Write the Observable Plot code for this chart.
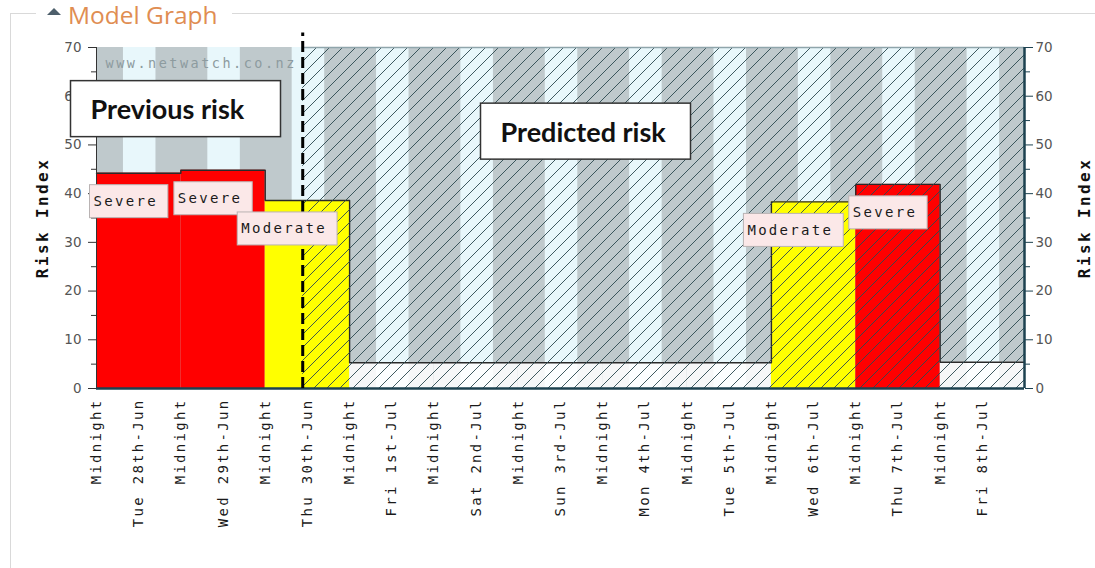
<!DOCTYPE html>
<html>
<head>
<meta charset="utf-8">
<script src="https://cdn.jsdelivr.net/npm/d3@7"></script>
<script src="https://cdn.jsdelivr.net/npm/@observablehq/plot@0.6"></script>
<style>
  html, body { margin: 0; padding: 0; background: #fff; }
  body { width: 1095px; height: 568px; overflow: hidden; position: relative; }
  #frame { position: absolute; left: 10px; top: 13px; width: 1200px; height: 700px;
           border-left: 1.5px solid #d9d9d9; border-top: 1.5px solid #d9d9d9; }
  #legend { position: absolute; left: 36px; top: 0px; height: 30px; padding: 0 14px 0 9px; background: #fff;
            font-family: "Open Sans", "Noto Sans", sans-serif; font-size: 24.5px; line-height: 30px; color: #e08d52;
            z-index: 3; white-space: nowrap; }
  #legend .tri { display: inline-block; width: 0; height: 0; border-left: 7px solid transparent;
                 border-right: 7px solid transparent; border-bottom: 7px solid #4d5f6b;
                 vertical-align: middle; margin: -12px 7px 0 2px; }
  #chart { position: absolute; left: 0; top: 0; z-index: 2; }
</style>
</head>
<body>
<div id="frame"></div>
<div id="legend"><span class="tri"></span>Model Graph</div>
<div id="chart"></div>
<script>
// ---------- data ----------
const days = ["2022-06-28","2022-06-29","2022-06-30","2022-07-01","2022-07-02","2022-07-03",
              "2022-07-04","2022-07-05","2022-07-06","2022-07-07","2022-07-08"];
const riskIndex = [44.2, 44.8, 38.6, 5.3, 5.3, 5.3, 5.3, 5.3, 38.3, 41.9, 5.4];
const riskLevel = ["Severe","Severe","Moderate","Low","Low","Low","Low","Low","Moderate","Severe","Low"];
const levelColors = {Severe: "#ff0000", Moderate: "#ffff00", Low: "#ffffff"};
const sunrise = "07:40";
const sunset = "16:55";
const nowTime = "2022-06-30T10:40Z";
const rangeEnd = "2022-07-09T00:00Z";
const xTickLabels = ["Midnight","Tue 28th-Jun","Midnight","Wed 29th-Jun","Midnight","Thu 30th-Jun",
  "Midnight","Fri 1st-Jul","Midnight","Sat 2nd-Jul","Midnight","Sun 3rd-Jul","Midnight","Mon 4th-Jul",
  "Midnight","Tue 5th-Jul","Midnight","Wed 6th-Jul","Midnight","Thu 7th-Jul","Midnight","Fri 8th-Jul"];
const yTicks = [0, 10, 20, 30, 40, 50, 60, 70];
const yMinorTicks = [5, 15, 25, 35, 45, 55, 65];
const periodLabels = ["Previous risk", "Predicted risk"];
const watermark = "www.netwatch.co.nz";
const axisTitle = "Risk Index";

// ---------- derived tables ----------
const dayMs = 864e5;
const dayStart = d => new Date(d + "T00:00Z");
const start = dayStart(days[0]);
const end = new Date(rangeEnd);
const now = new Date(nowTime);
const rows = days.map((d, i) => ({
  start: dayStart(d), end: new Date(dayStart(d).getTime() + dayMs),
  value: riskIndex[i], level: riskLevel[i]
}));
const daylight = days.map(d => ({x1: new Date(`${d}T${sunrise}Z`), x2: new Date(`${d}T${sunset}Z`)}));
const xTicks = xTickLabels.map((_, i) => new Date(start.getTime() + i * dayMs / 2));
const labelByTime = new Map(xTicks.map((t, i) => [+t, xTickLabels[i]]));
const outline = rows.map(r => ({x: r.start, y: r.value}))
  .concat([{x: end, y: riskIndex[riskIndex.length - 1]}]);
const tags = rows.filter(r => r.level !== "Low");

const mono = "DejaVu Sans Mono";
const teal = "#1d4250";
const boldSans = "Lato, 'Open Sans', sans-serif";

const svg = Plot.plot({
  width: 1095,
  height: 568,
  marginLeft: 96,
  marginRight: 71,
  marginTop: 47,
  marginBottom: 180,
  style: {background: "transparent", overflow: "visible"},
  x: {type: "utc", domain: [start, end]},
  y: {domain: [0, 70]},
  color: {type: "identity"},
  marks: [
    () => {
      const defs = d3.create("svg:defs");
      defs.html(`<pattern id="hatch" patternUnits="userSpaceOnUse" width="13" height="13">
        <path d="M-2,2 L2,-2 M0,13 L13,0 M11,15 L15,11" stroke="#2c4950" stroke-width="1" stroke-opacity="0.9"/>
      </pattern>`);
      return defs.node();
    },
    // night background and daylight stripes
    Plot.rect([{x1: start, x2: end}], {x1: "x1", x2: "x2", y1: 0, y2: 70, fill: "#bfc9cc"}),
    Plot.rect(daylight, {x1: "x1", x2: "x2", y1: 0, y2: 70, fill: "#e8f7fb"}),
    // risk bars
    Plot.rect(rows.filter(r => r.level === "Low"), {x1: "start", x2: "end", y1: 0, y2: "value",
      fill: "#ffffff", fillOpacity: 0.85}),
    Plot.rect(rows.filter(r => r.level !== "Low"), {x1: "start", x2: "end", y1: 0, y2: "value",
      fill: d => levelColors[d.level]}),
    Plot.line(outline, {x: "x", y: "y", curve: "step-after", stroke: "#2a2a2a", strokeWidth: 1.4}),
    // predicted region hatching
    Plot.rect([{x1: now, x2: end}], {x1: "x1", x2: "x2", y1: 0, y2: 70, fill: "url(#hatch)"}),
    Plot.ruleY([70], {x1: now, x2: end, stroke: "#8fa5ab", strokeWidth: 1.5}),
    // axes
    Plot.axisX({ticks: xTicks, tickFormat: d => labelByTime.get(+d), tickRotate: -90, tickSize: 0,
      tickPadding: 10, fontFamily: mono, fontSize: 14, color: "#1a1a1a", label: null}),
    Plot.axisY({anchor: "left", ticks: yTicks, tickSize: 8, tickPadding: 7, fontFamily: "DejaVu Sans",
      fontSize: 13.5, color: "#555", stroke: "#333", label: null}),
    Plot.axisY({anchor: "left", ticks: yMinorTicks, tickSize: 5, tickFormat: () => "", stroke: "#333", label: null}),
    Plot.axisY({anchor: "right", ticks: yTicks, tickSize: 8, tickPadding: 3, fontFamily: "DejaVu Sans",
      fontSize: 13.5, color: "#555", stroke: teal, label: null}),
    Plot.axisY({anchor: "right", ticks: yMinorTicks, tickSize: 5, tickFormat: () => "", stroke: teal, label: null}),
    Plot.ruleX([start], {y1: 0, y2: 70, stroke: "#333", strokeWidth: 1}),
    Plot.ruleX([end], {y1: 0, y2: 70, stroke: teal, strokeWidth: 2.5}),
    Plot.ruleY([0], {stroke: teal, strokeWidth: 2.5}),
    // "now" divider
    Plot.ruleX([now], {y1: 0, y2: 73, stroke: "#000", strokeWidth: 3, strokeDasharray: "11,5"}),
    // texts
    Plot.text([watermark], {frameAnchor: "top-left", dx: 9, dy: 16, textAnchor: "start", lineAnchor: "middle",
      fontFamily: mono, fontSize: 13.5, fill: "#8d9b9f", ariaDescription: "watermark"}),
    Plot.text(tags.filter(d => d.level === "Severe"), {x: "start", y: "value", text: "level", dx: -3, dy: 28.5,
      textAnchor: "start", lineAnchor: "middle", fontFamily: mono, fontSize: 14, fill: "#1a1a1a", ariaDescription: "tag"}),
    Plot.text(tags.filter(d => d.level === "Moderate"), {x: "start", y: "value", text: "level", dx: -24, dy: 28.5,
      textAnchor: "start", lineAnchor: "middle", fontFamily: mono, fontSize: 14, fill: "#1a1a1a", ariaDescription: "tag"}),
    Plot.text([periodLabels[0]], {frameAnchor: "top-left", dx: -6, dy: 63, textAnchor: "start", lineAnchor: "middle",
      fontFamily: boldSans, fontWeight: "bold", fontSize: 27, fill: "#111", ariaDescription: "period"}),
    Plot.text([periodLabels[1]], {frameAnchor: "top-left", dx: 404, dy: 85.5, textAnchor: "start", lineAnchor: "middle",
      fontFamily: boldSans, fontWeight: "bold", fontSize: 27, fill: "#111", ariaDescription: "period"}),
    Plot.text([axisTitle], {frameAnchor: "left", dx: -54, rotate: -90, textAnchor: "middle", fontFamily: mono,
      fontWeight: "bold", fontSize: 16, fill: "#111", ariaDescription: "axis-title"}),
    Plot.text([axisTitle], {frameAnchor: "right", dx: 60, rotate: -90, textAnchor: "middle", fontFamily: mono,
      fontWeight: "bold", fontSize: 16, fill: "#111", ariaDescription: "axis-title"})
  ]
});

document.getElementById("chart").append(svg);

// letter spacing for the bitmap-like monospaced texts
const spaced = [['aria-label="x-axis tick label"', "2.3px"], ['aria-description="watermark"', "2.5px"],
                ['aria-description="tag"', "2.3px"], ['aria-description="axis-title"', "2.4px"]];
for (const [sel, ls] of spaced) {
  svg.querySelectorAll(`g[${sel}]`).forEach(g => g.style.letterSpacing = ls);
}

function addBox(text, x, y, w, h, fill, stroke, sw) {
  const r = document.createElementNS("http://www.w3.org/2000/svg", "rect");
  r.setAttribute("x", x); r.setAttribute("y", y);
  r.setAttribute("width", w); r.setAttribute("height", h);
  r.setAttribute("fill", fill); r.setAttribute("stroke", stroke); r.setAttribute("stroke-width", sw);
  const tr = text.getAttribute("transform");
  if (tr) r.setAttribute("transform", tr);
  text.parentNode.insertBefore(r, text);
}
svg.querySelectorAll('g[aria-description="tag"] text').forEach(t => {
  const b = t.getBBox();
  addBox(t, b.x - 4, b.y + b.height / 2 - 16.5, b.width + 14, 33, "#fbe8e8", "#b9b3b3", 1);
});
svg.querySelectorAll('g[aria-description="period"] text').forEach(t => {
  const b = t.getBBox();
  addBox(t, b.x - 20, b.y + b.height / 2 - 28, 210, 56, "#ffffff", "#333", 1.5);
});
</script>
</body>
</html>
